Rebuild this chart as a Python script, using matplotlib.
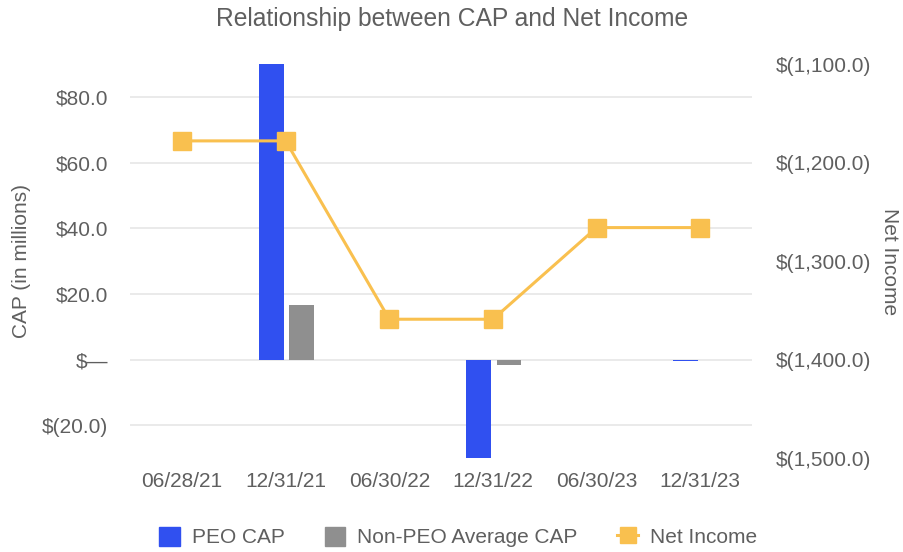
import numpy as np
import matplotlib.pyplot as plt
from matplotlib.ticker import FuncFormatter
from matplotlib.lines import Line2D
from matplotlib.patches import Patch

plt.rcParams['font.family'] = ['Liberation Sans', 'DejaVu Sans']

dates = ['06/28/21', '12/31/21', '06/30/22', '12/31/22', '06/30/23', '12/31/23']
peo_cap = [np.nan, 90.3, np.nan, -29.8, np.nan, -0.5]
non_peo_cap = [np.nan, 16.7, np.nan, -1.5, np.nan, np.nan]
net_income = [-1178, -1178, -1359, -1359, -1266, -1266]

txt = '#5f5f5f'
blue = '#3050f0'
grey = '#8f8f8f'
gold = '#f9c04f'
fs = 15


def cap_fmt(v, pos):
    if abs(v) < 1e-9:
        return '$\u2014'
    if v < 0:
        return '$({:,.1f})'.format(-v)
    return '${:,.1f}'.format(v)


def ni_fmt(v, pos):
    if v < 0:
        return '$({:,.1f})'.format(-v)
    return '${:,.1f}'.format(v)


fig = plt.figure(figsize=(9.04, 5.52), dpi=100)
ax = fig.add_axes([0.144, 0.170, 0.688, 0.714])
ax2 = ax.twinx()

x = np.arange(len(dates))
w = 0.24
ax.bar(x - 0.14, peo_cap, w, color=blue, zorder=3)
ax.bar(x + 0.155, non_peo_cap, w, color=grey, zorder=3)

ax2.plot(x, net_income, color=gold, lw=2.2, marker='s', ms=13, zorder=4)

ax.set_xlim(-0.5, 5.5)
ax.set_ylim(-30, 90)
ax.set_yticks([-20, 0, 20, 40, 60, 80])
ax.yaxis.set_major_formatter(FuncFormatter(cap_fmt))
ax.grid(axis='y', color='#e6e6e6', lw=1.2, zorder=0)
ax.set_axisbelow(True)

ax2.set_ylim(-1500, -1100)
ax2.set_yticks([-1500, -1400, -1300, -1200, -1100])
ax2.yaxis.set_major_formatter(FuncFormatter(ni_fmt))

ax.set_xticks(x)
ax.set_xticklabels(dates)

for a in (ax, ax2):
    for s in a.spines.values():
        s.set_visible(False)
    a.tick_params(length=0, labelsize=fs, colors=txt)
ax.tick_params(axis='y', pad=16)
ax.tick_params(axis='x', pad=10)
ax2.tick_params(axis='y', pad=17)

ax.set_ylabel('CAP (in millions)', fontsize=fs, color=txt, labelpad=8)
ax2.set_ylabel('Net Income', fontsize=fs, color=txt, rotation=270, labelpad=20)

fig.suptitle('Relationship between CAP and Net Income', fontsize=17.7, color=txt, y=0.988)

handles = [Patch(color=blue), Patch(color=grey),
           Line2D([], [], color=gold, lw=2.2, marker='s', ms=12)]
fig.legend(handles, ['PEO CAP', 'Non-PEO Average CAP', 'Net Income'],
           loc='center', bbox_to_anchor=(0.507, 0.027), ncol=3, frameon=False,
           fontsize=fs, labelcolor=txt, handlelength=1.0, handleheight=1.0,
           columnspacing=1.9, handletextpad=0.58)

fig.savefig('out.png', dpi=100)
